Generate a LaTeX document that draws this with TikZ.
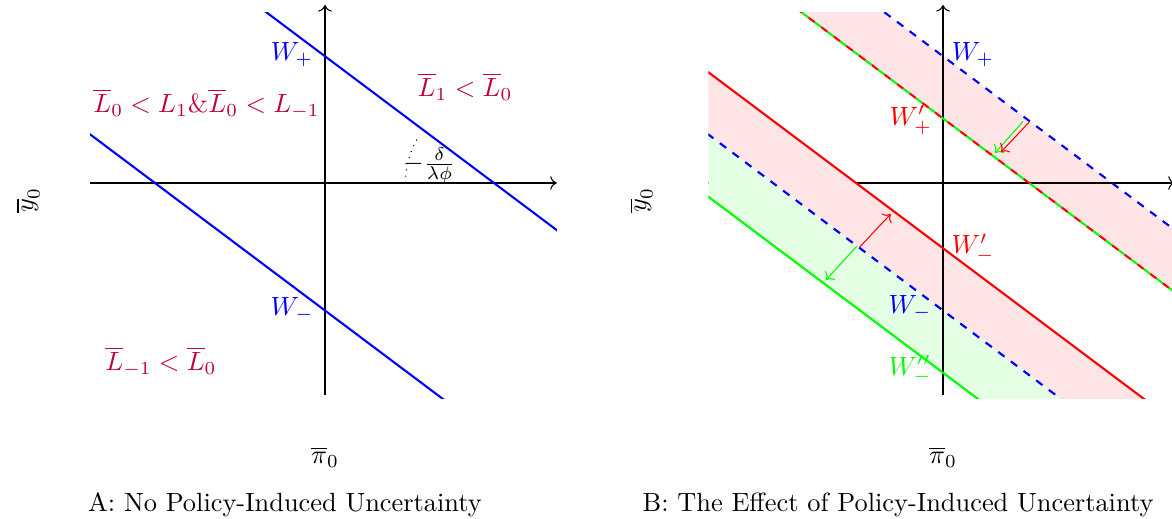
\documentclass[tikz,border=0pt]{standalone}
\usepackage{amsmath}
\usepackage{amsfonts}
\usepackage{tikz}
\usetikzlibrary{arrows.meta}

\begin{document}
\begin{tikzpicture}[line width=0.4pt,
    wline/.style={thick},
    wdash/.style={thick, dashed},
    region/.style={text=purple},
    shiftarrow/.style={->, line width=0.4pt}]
    \clip (-4.333,-4.467) rectangle (11.293,2.44);

    % panel A
    \draw[->] (-3.13,0) -- (3.09,0);
    \draw[->] (0,-2.827) -- (0,2.373);
    \begin{scope}
        \clip (-3.13,-2.867) rectangle (3.09,2.28);
        \draw[wline, blue] (-5,5.44) -- (5,-2.06);
        \draw[wline, blue] (-5,2.05) -- (5,-5.45);
    \end{scope}
    \coordinate (cross) at (2.253,0);
    \draw[dotted] (cross) ++(180:1.18) arc (180:148:1.18);
    \node[inner sep=1pt] (slope) at (1.39,0.235) {$-\frac{\delta}{\lambda\phi}$};
    \node[blue] (wplusA) at (-0.44,1.707) {$W_+$};
    \node[blue] (wminusA) at (-0.44,-1.693) {$W_-$};
    \node[region] (upper) at (1.867,1.28) {$\overline{L}_1<\overline{L}_0$};
    \node[region] (middle) at (-1.58,1.053) {$\overline{L}_0<L_1\&\overline{L}_0<L_{-1}$};
    \node[region] (lower) at (-2.187,-2.38) {$\overline{L}_{-1}<\overline{L}_0$};
    \node[rotate=90] (ylabA) at (-3.96,-0.227) {$\overline{y}_0$};
    \node (xlabA) at (0,-3.653) {$\overline{\pi}_0$};
    \node (capA) at (-0.533,-4.293) {A: No Policy-Induced Uncertainty};

    % panel B
    \begin{scope}[xshift=8.24cm]
        \begin{scope}
            \clip (-3.13,-2.867) rectangle (3.09,2.28);
            \fill[red!10] (-5,4.61) -- (5,-2.89) -- (5,-2.06) -- (-5,5.44) -- cycle;
            \draw (-3.13,0) -- (3.09,0);
            \fill[red!10] (-5,2.88) -- (5,-4.62) -- (5,-5.45) -- (-5,2.05) -- cycle;
            \fill[green!10] (-5,2.05) -- (5,-5.45) -- (5,-6.28) -- (-5,1.22) -- cycle;
        \end{scope}
        \draw[->] (3.0,0) -- (3.09,0);
        \draw[->] (0,-2.827) -- (0,2.373);
        \begin{scope}
            \clip (-3.13,-2.867) rectangle (3.09,2.28);
            \draw[wdash, blue] (-5,5.44) -- (5,-2.06);
            \draw[wdash, red] (-5,4.61) -- (5,-2.89);
            \draw[wdash, green, dash phase=3pt] (-5,4.61) -- (5,-2.89);
            \draw[wline, red] (-5,2.88) -- (5,-4.62);
            \draw[wdash, blue] (-5,2.05) -- (5,-5.45);
            \draw[wline, green] (-5,1.22) -- (5,-6.28);
        \end{scope}
        % shifts of the bounds
        \coordinate (topG) at (1.067,0.82);
        \coordinate (topGend) at (0.693,0.40);
        \coordinate (topR) at (1.147,0.81);
        \coordinate (topRend) at (0.773,0.413);
        \coordinate (botR) at (-1.107,-0.849);
        \coordinate (botRend) at (-0.697,-0.413);
        \coordinate (botG) at (-1.147,-0.84);
        \coordinate (botGend) at (-1.56,-1.293);
        \draw[shiftarrow, green] (topG) -- (topGend);
        \draw[shiftarrow, red] (topR) -- (topRend);
        \draw[shiftarrow, red] (botR) -- (botRend);
        \draw[shiftarrow, green] (botG) -- (botGend);
        \node[blue] (wplusB) at (0.4,1.707) {$W_+$};
        \node[red] (wplusp) at (-0.43,0.84) {$W'_+$};
        \node[red] (wminusp) at (0.4,-0.867) {$W'_-$};
        \node[blue] (wminusB) at (-0.44,-1.667) {$W_-$};
        \node[green] (wminuspp) at (-0.44,-2.49) {$W''_-$};
        \node[rotate=90] (ylabB) at (-4.027,-0.227) {$\overline{y}_0$};
        \node (xlabB) at (0,-3.653) {$\overline{\pi}_0$};
        \node (capB) at (-0.6,-4.293) {B: The Effect of Policy-Induced Uncertainty};
    \end{scope}
\end{tikzpicture}
\end{document}
